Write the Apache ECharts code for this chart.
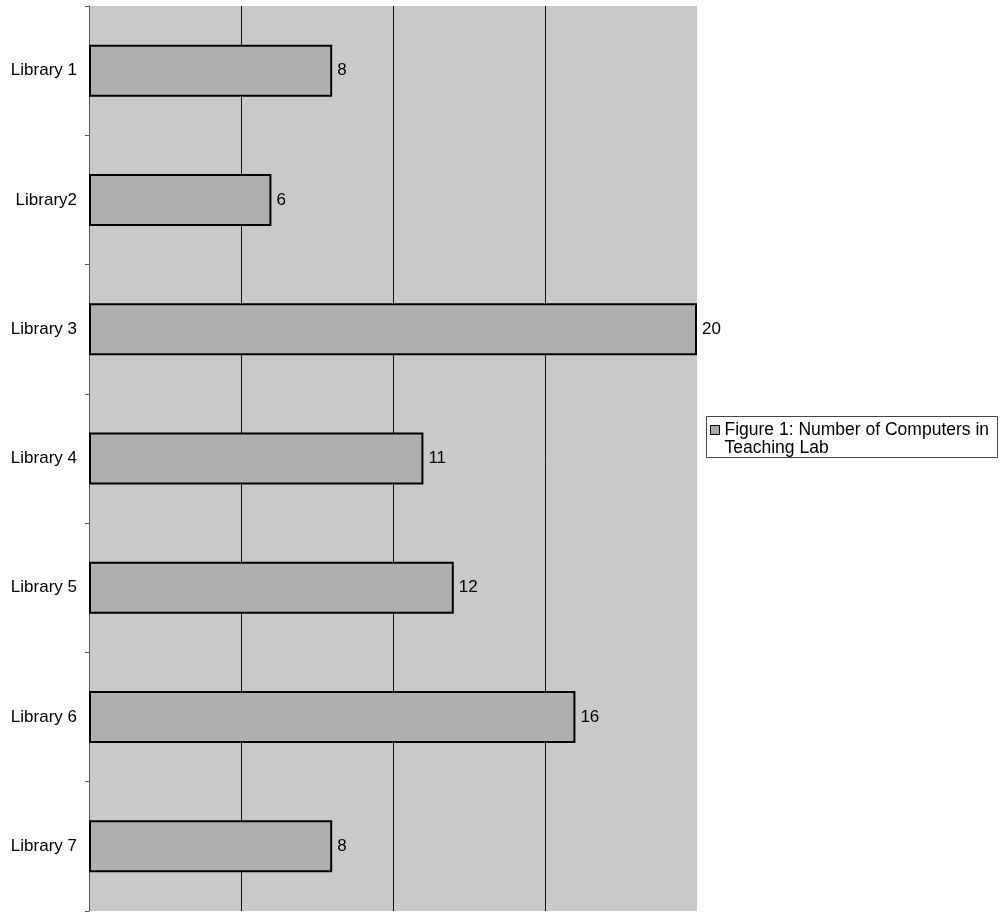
<!DOCTYPE html>
<html><head><meta charset="utf-8">
<script src="https://cdn.jsdelivr.net/npm/echarts@6/dist/echarts.min.js"></script>
<style>html,body{margin:0;padding:0;background:#fff}#c{width:1001px;height:913px}</style>
</head><body><div id="c"></div>
<script>
var categories = ['Library 1','Library2','Library 3','Library 4','Library 5','Library 6','Library 7'];
var values = [8, 6, 20, 11, 12, 16, 8];
var seriesName = 'Figure 1: Number of Computers in Teaching Lab';
var FONT = '"Liberation Sans",Arial,sans-serif';
var chart = echarts.init(document.getElementById('c'));
chart.setOption({
  animation: false,
  backgroundColor: '#fff',
  grid: {left: 89, right: 304, top: 6, bottom: 2, show: true, backgroundColor: '#c9c9c9', borderWidth: 0},
  graphic: [{type: 'rect', left: 706, top: 416, shape: {width: 291, height: 41},
    style: {fill: '#fff', stroke: '#444', lineWidth: 1}, z: 0}],
  xAxis: {type: 'value', min: 0, max: 20, interval: 5,
    axisLabel: {show: false}, axisTick: {show: false}, axisLine: {show: false},
    splitLine: {show: true, lineStyle: {color: ['rgba(0,0,0,0)','#111','#111','#111','rgba(0,0,0,0)'], width: 1}}},
  yAxis: {type: 'category', data: categories, inverse: true,
    axisLine: {show: true, lineStyle: {color: '#555', width: 1}},
    axisTick: {show: true, length: 4, lineStyle: {color: '#555'}},
    axisLabel: {color: '#000', fontFamily: FONT, fontSize: 17, margin: 12}},
  legend: {show: true, orient: 'vertical', left: 710, top: 421, padding: 0, borderWidth: 0,
    itemWidth: 9, itemHeight: 27, z: 5,
    formatter: function(n){ return 'Figure 1: Number of Computers in\nTeaching Lab'; },
    textStyle: {color: '#000', fontFamily: FONT, fontSize: 17.5, lineHeight: 18},
    data: [{name: seriesName, icon: 'path://M0,0L9,0L9,9L0,9Z M0,27L0.01,27', itemStyle: {color: '#ababab', borderColor: '#000', borderWidth: 1}}]},
  series: [{name: seriesName, type: 'bar', data: values, barWidth: 52,
    itemStyle: {color: '#afafaf', borderColor: '#000', borderWidth: 2},
    label: {show: true, position: 'right', distance: 5, color: '#000', fontFamily: FONT, fontSize: 17}}]
});
</script></body></html>
